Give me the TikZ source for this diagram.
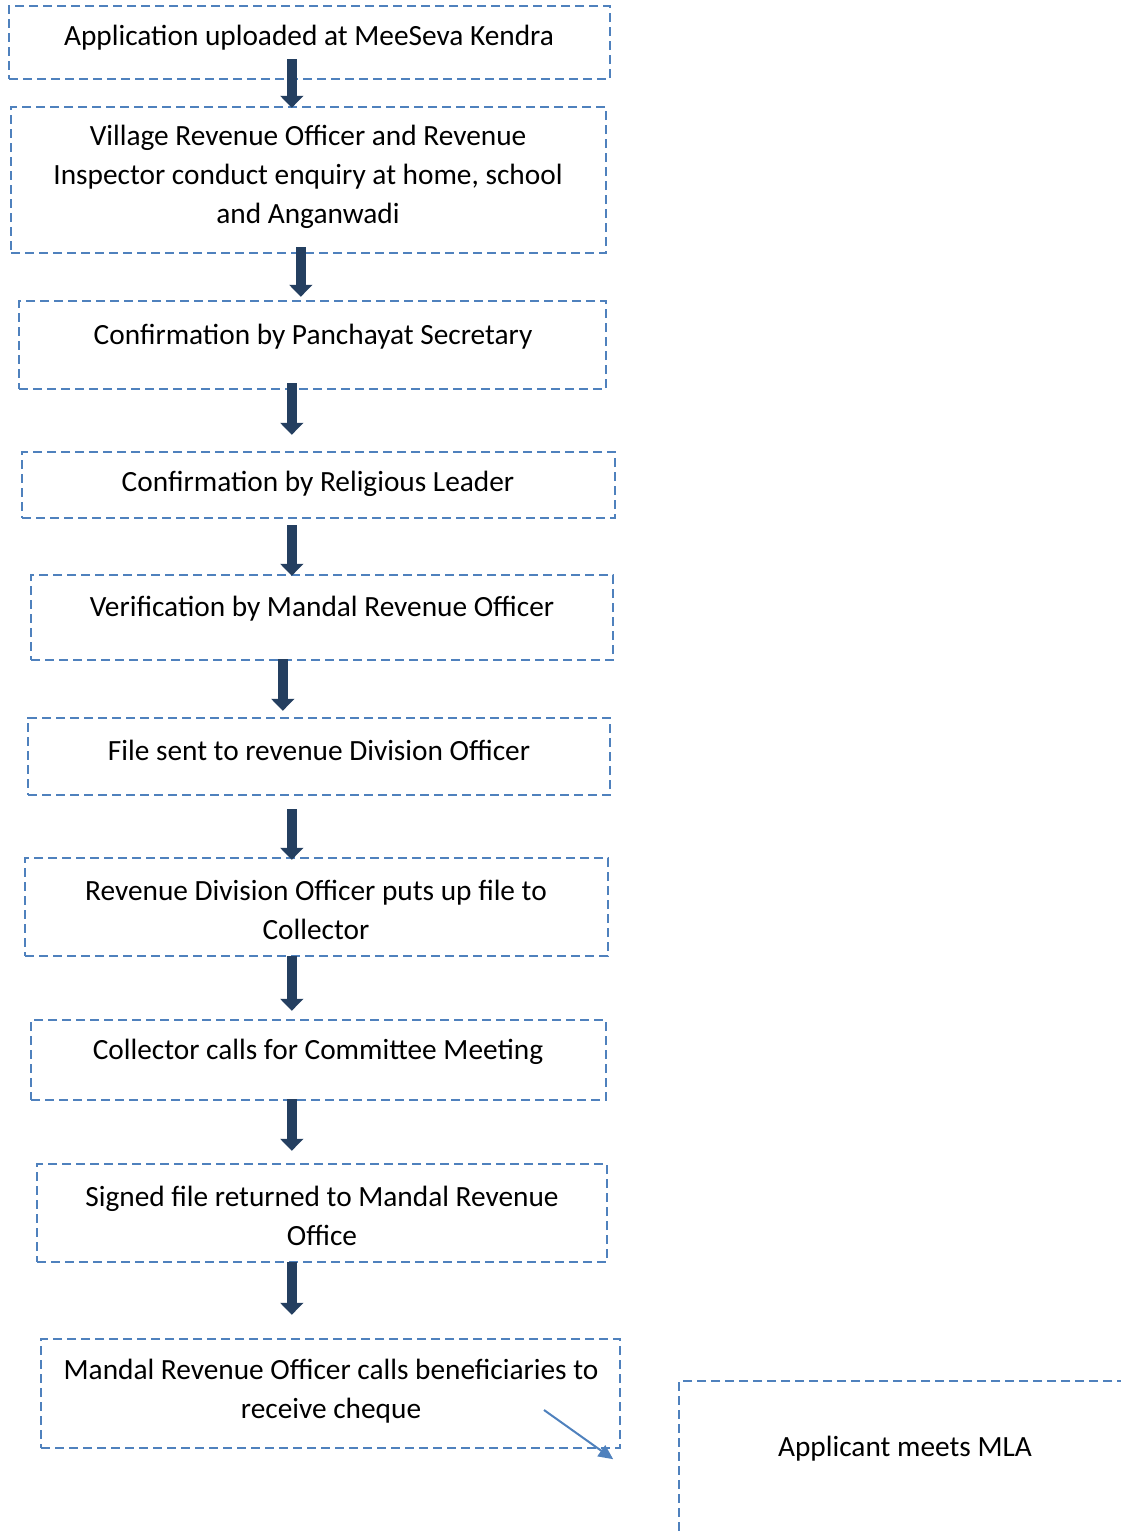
\documentclass[tikz,border=0pt]{standalone}
\usepackage{fontspec}
\setmainfont{Carlito}
\usetikzlibrary{arrows.meta,fit,calc}
\definecolor{dashblue}{HTML}{4F81BD}
\definecolor{navy}{HTML}{243F60}
\begin{document}
\begin{tikzpicture}[x=0.75pt,y=-0.75pt,
  box/.style={draw=dashblue,line width=1.8pt,dash pattern=on 6.8pt off 3.7pt,inner sep=0pt},
  txt/.style={font=\fontsize{22pt}{29.3pt}\selectfont,align=center,inner sep=0pt,text=black},
  arr/.style={draw=navy,line width=7.5pt,-{Triangle[width=17pt,length=9pt]}},
  thin/.style={draw=dashblue,line width=1.5pt,-{Triangle[width=10pt,length=11pt]}}]
\clip (0,0) rectangle (1121,1532);
\useasboundingbox (0,0) rectangle (1121,1532);
\node[box,fit={(9,6) (610,79)}] (b1) {};
\node[txt] (t1) at (309,38) {Application uploaded at MeeSeva Kendra};
\node[box,fit={(11,107) (606,253)}] (b2) {};
\node[txt] (t2) at (308,177) {Village Revenue Officer and Revenue\\Inspector conduct enquiry at home, school\\and Anganwadi};
\node[box,fit={(19,301) (606,389)}] (b3) {};
\node[txt] (t3) at (313,337) {Confirmation by Panchayat Secretary};
\node[box,fit={(22,452) (615,518)}] (b4) {};
\node[txt] (t4) at (318,484) {Confirmation by Religious Leader};
\node[box,fit={(31,575) (613,660)}] (b5) {};
\node[txt] (t5) at (322,609) {Verification by Mandal Revenue Officer};
\node[box,fit={(28,718) (610,795)}] (b6) {};
\node[txt] (t6) at (319,750) {File sent to revenue Division Officer};
\node[box,fit={(25,858) (608,956)}] (b7) {};
\node[txt] (t7) at (316,909.5) {Revenue Division Officer puts up file to\\Collector};
\node[box,fit={(31,1020) (606,1100)}] (b8) {};
\node[txt] (t8) at (318,1052) {Collector calls for Committee Meeting};
\node[box,fit={(37,1164) (607,1262)}] (b9) {};
\node[txt] (t9) at (322,1215.5) {Signed file returned to Mandal Revenue\\Office};
\node[box,fit={(41,1339) (620,1448)}] (b10) {};
\node[txt] (t10) at (331,1391) {Mandal Revenue Officer calls beneficiaries to\\receive cheque};
\node[box,fit={(679,1381) (1160,1580)}] (b11) {};
\node[txt] (t11) at (905,1449) {Applicant meets MLA};
% arrows
\draw[arr] ($(b1.south west)+(284,-21)$) -- ($(b2.north west)+(282,2)$);
\draw[arr] ($(b2.south west)+(291,-7)$) -- ($(b3.north west)+(283,-3)$);
\draw[arr] ($(b3.south west)+(274,-7)$) -- ($(b4.north west)+(271,-16)$);
\draw[arr] ($(b4.south west)+(271,6)$) -- ($(b5.north west)+(262,2)$);
\draw[arr] ($(b5.south west)+(253,-2)$) -- ($(b6.north west)+(256,-6)$);
\draw[arr] ($(b6.south west)+(265,13)$) -- ($(b7.north west)+(268,3)$);
\draw[arr] ($(b7.south west)+(268,-1)$) -- ($(b8.north west)+(262,-8)$);
\draw[arr] ($(b8.south west)+(262,-2)$) -- ($(b9.north west)+(256,-12)$);
\draw[arr] ($(b9.south west)+(256,-1)$) -- ($(b10.north west)+(252,-23)$);
\coordinate (c1) at (544,1410);
\draw[thin] (c1) -- ($(b10.south east)+(-8,10)$);
\end{tikzpicture}
\end{document}
